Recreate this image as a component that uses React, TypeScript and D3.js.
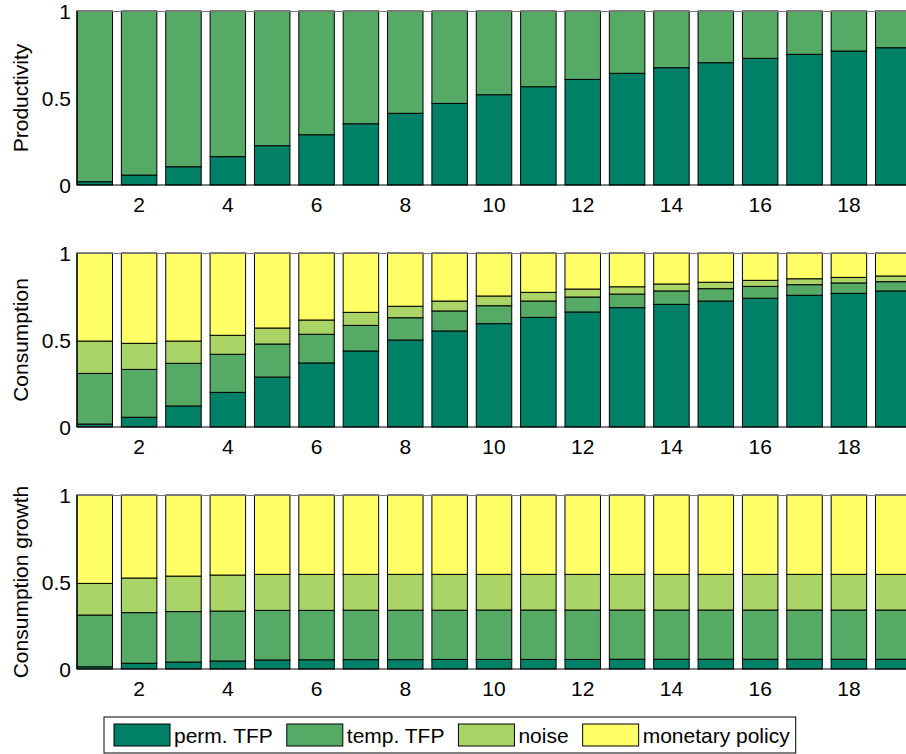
import { useEffect, useRef } from "react";
import * as d3 from "d3";

// horizon (quarters) and tick labels
const periods = [1, 2, 3, 4, 5, 6, 7, 8, 9, 10, 11, 12, 13, 14, 15, 16, 17, 18, 19];
const xTicks = [2, 4, 6, 8, 10, 12, 14, 16, 18];
const yTicks = [0, 0.5, 1];
const yTickLabels = ["0", "0.5", "1"];

const seriesNames = ["perm. TFP", "temp. TFP", "noise", "monetary policy"];
const seriesColors = ["#008066", "#55aa66", "#aad466", "#ffff66"];

// Productivity: variance shares
const prodPerm = [0.019, 0.057, 0.105, 0.163, 0.226, 0.289, 0.352, 0.412, 0.469, 0.519, 0.565, 0.607, 0.642, 0.674, 0.703, 0.728, 0.751, 0.77, 0.789];
const prodTemp = [0.981, 0.943, 0.895, 0.837, 0.774, 0.711, 0.648, 0.588, 0.531, 0.481, 0.435, 0.393, 0.358, 0.326, 0.297, 0.272, 0.249, 0.23, 0.211];

// Consumption: variance shares
const consPerm = [0.017, 0.056, 0.121, 0.199, 0.287, 0.368, 0.437, 0.5, 0.552, 0.594, 0.63, 0.661, 0.686, 0.705, 0.724, 0.74, 0.757, 0.768, 0.782];
const consTemp = [0.291, 0.275, 0.245, 0.219, 0.19, 0.165, 0.147, 0.128, 0.115, 0.103, 0.094, 0.086, 0.078, 0.077, 0.071, 0.068, 0.061, 0.06, 0.053];
const consNoise = [0.186, 0.15, 0.128, 0.109, 0.092, 0.082, 0.075, 0.066, 0.057, 0.056, 0.05, 0.046, 0.042, 0.04, 0.037, 0.035, 0.034, 0.032, 0.033];
const consMon = [0.506, 0.519, 0.506, 0.473, 0.431, 0.385, 0.341, 0.306, 0.276, 0.247, 0.226, 0.207, 0.194, 0.178, 0.168, 0.157, 0.148, 0.14, 0.132];

// Consumption growth: variance shares
const growPerm = [0.013, 0.033, 0.04, 0.046, 0.052, 0.053, 0.054, 0.054, 0.055, 0.055, 0.055, 0.055, 0.056, 0.056, 0.056, 0.056, 0.056, 0.056, 0.056];
const growTemp = [0.297, 0.291, 0.29, 0.287, 0.285, 0.284, 0.284, 0.284, 0.283, 0.284, 0.284, 0.284, 0.283, 0.283, 0.283, 0.283, 0.283, 0.283, 0.283];
const growNoise = [0.182, 0.199, 0.204, 0.207, 0.207, 0.207, 0.206, 0.206, 0.206, 0.205, 0.205, 0.205, 0.205, 0.205, 0.205, 0.205, 0.205, 0.205, 0.205];
const growMon = [0.508, 0.477, 0.466, 0.46, 0.456, 0.456, 0.456, 0.456, 0.456, 0.456, 0.456, 0.456, 0.456, 0.456, 0.456, 0.456, 0.456, 0.456, 0.456];

const panels = [
  { label: "Productivity", series: [prodPerm, prodTemp] },
  { label: "Consumption", series: [consPerm, consTemp, consNoise, consMon] },
  { label: "Consumption growth", series: [growPerm, growTemp, growNoise, growMon] },
];

const FONT = "'Liberation Sans', Arial, Helvetica, sans-serif";
const FS = 21;

export default function App() {
  const svgRef = useRef<SVGSVGElement>(null);

  useEffect(() => {
    if (!svgRef.current) return;
    const width = 906;
    const height = 754;
    const left = 77;
    const right = 911; // axes run past the edge of the figure
    const panelTops = [11, 253, 495];
    const panelH = 174;

    const svg = d3.select(svgRef.current);
    svg.selectAll("*").remove();
    svg.attr("width", width).attr("height", height).attr("viewBox", `0 0 ${width} ${height}`);

    const x = d3.scaleLinear().domain([0.6, 19.4]).range([left, right]);
    const barW = x(1.4) - x(0.6);

    panels.forEach((p, pi) => {
      const top = panelTops[pi];
      const y = d3.scaleLinear().domain([0, 1]).range([top + panelH, top]);
      const g = svg.append("g");

      const keys = p.series.map((_, i) => String(i));
      const rows = periods.map((t, j) => {
        const r: Record<string, number> = { t };
        p.series.forEach((s, i) => (r[String(i)] = s[j]));
        return r;
      });
      const stacked = d3.stack<Record<string, number>>().keys(keys)(rows);

      stacked.forEach((layer, i) => {
        g.selectAll(null)
          .data(layer)
          .enter()
          .append("rect")
          .attr("x", (d) => x(d.data.t) - barW / 2)
          .attr("y", (d) => y(d[1]))
          .attr("width", barW)
          .attr("height", (d) => y(d[0]) - y(d[1]))
          .attr("fill", seriesColors[i])
          .attr("stroke", "#000")
          .attr("stroke-width", 1);
      });

      // axes box
      g.append("line")
        .attr("x1", left).attr("x2", right)
        .attr("y1", top + 0.5).attr("y2", top + 0.5)
        .attr("stroke", "#777").attr("stroke-width", 1);
      g.append("line")
        .attr("x1", left).attr("x2", right)
        .attr("y1", top + panelH).attr("y2", top + panelH)
        .attr("stroke", "#000").attr("stroke-width", 1.2);
      g.append("line")
        .attr("x1", left).attr("x2", left)
        .attr("y1", top).attr("y2", top + panelH)
        .attr("stroke", "#000").attr("stroke-width", 1.2);

      // y ticks
      g.selectAll(null)
        .data(yTicks)
        .enter()
        .append("text")
        .attr("x", left - 6)
        .attr("y", (d) => y(d) + 7.5)
        .attr("text-anchor", "end")
        .attr("font-family", FONT)
        .attr("font-size", FS)
        .text((_, i) => yTickLabels[i]);

      // x ticks
      g.selectAll(null)
        .data(xTicks)
        .enter()
        .append("text")
        .attr("x", (d) => x(d))
        .attr("y", top + panelH + 27)
        .attr("text-anchor", "middle")
        .attr("font-family", FONT)
        .attr("font-size", FS)
        .text((d) => String(d));

      // y label
      g.append("text")
        .attr("transform", `translate(28,${top + panelH / 2}) rotate(-90)`)
        .attr("text-anchor", "middle")
        .attr("font-family", FONT)
        .attr("font-size", FS)
        .text(p.label);
    });

    // legend
    const lg = svg.append("g");
    const boxX = 104;
    const boxY = 717;
    const boxH = 36;
    const swW = 56;
    const swH = 22;
    let cx = boxX + 10;
    seriesNames.forEach((name, i) => {
      lg.append("rect")
        .attr("x", cx).attr("y", boxY + 7)
        .attr("width", swW).attr("height", swH)
        .attr("fill", seriesColors[i])
        .attr("stroke", "#000").attr("stroke-width", 1);
      cx += swW + 4;
      const t = lg.append("text")
        .attr("x", cx).attr("y", boxY + 25.5)
        .attr("font-family", FONT)
        .attr("font-size", FS)
        .text(name);
      const w = (t.node() as SVGTextElement).getComputedTextLength();
      cx += w + 14;
    });
    lg.insert("rect", ":first-child")
      .attr("x", boxX).attr("y", boxY)
      .attr("width", cx - boxX - 8).attr("height", boxH)
      .attr("fill", "#fff")
      .attr("stroke", "#000").attr("stroke-width", 1);
  }, []);

  return (
    <div style={{ position: "absolute", left: 0, top: 0, background: "#fff" }}>
      <svg ref={svgRef} style={{ display: "block" }} />
    </div>
  );
}
